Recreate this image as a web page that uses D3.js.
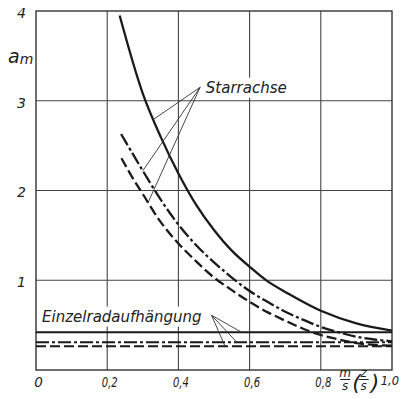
<!DOCTYPE html>
<html><head><meta charset="utf-8">
<script src="https://cdn.jsdelivr.net/npm/d3@7"></script>
<style>
html,body{margin:0;padding:0;background:#fff;}
svg{display:block;}
text{font-family:"DejaVu Sans",sans-serif;font-style:italic;fill:#222;}
</style></head>
<body>
<svg id="c" width="402" height="399"></svg>
<script>
// ---- data ----
const xTicks = [0, 0.2, 0.4, 0.6, 0.8, 1.0];
const xTickLabels = ["0", "0,2", "0,4", "0,6", "0,8", "1,0"];
const yTicks = [1, 2, 3, 4];
const yTickLabels = ["1", "2", "3", "4"];

// Starrachse curves (m/s, a_m)
const starSolidX = [0.235, 0.30, 0.35, 0.40, 0.45, 0.50, 0.55, 0.60, 0.65, 0.70, 0.80, 0.90, 1.0];
const starSolidY = [3.95, 3.08, 2.60, 2.19, 1.84, 1.56, 1.33, 1.15, 0.99, 0.87, 0.66, 0.52, 0.44];
const starDashDotX = [0.239, 0.27, 0.30, 0.35, 0.40, 0.45, 0.50, 0.55, 0.60, 0.65, 0.70, 0.75, 0.80, 0.85, 0.90, 0.95, 1.0];
const starDashDotY = [2.63, 2.42, 2.22, 1.90, 1.62, 1.39, 1.20, 1.03, 0.88, 0.76, 0.65, 0.56, 0.48, 0.42, 0.37, 0.34, 0.32];
const starDashX = [0.24, 0.27, 0.30, 0.35, 0.40, 0.45, 0.50, 0.55, 0.60, 0.65, 0.70, 0.75, 0.80, 0.85, 0.90, 0.95, 1.0];
const starDashY = [2.36, 2.15, 1.96, 1.65, 1.41, 1.21, 1.03, 0.89, 0.76, 0.645, 0.55, 0.46, 0.39, 0.34, 0.30, 0.28, 0.27];

// Einzelradaufhängung (constant levels)
const einzelLevels = [0.42, 0.31, 0.265];
const einzelStyles = ["solid", "dashdot", "dash"];

// annotations
const starLabel = "Starrachse";
const starLabelPos = [0.477, 3.09];
const starLeaderFrom = [0.461, 3.15];
const starLeaderTo = [0.33, 0.30, 0.315]; // x on solid, dash-dot, dashed
const einzelLabel = "Einzelradaufhängung";
const einzelLabelPos = [0.017, 0.54];
const einzelLeaderFrom = [0.493, 0.61];
const einzelLeaderTo = [0.578, 0.564, 0.531];

// ---- drawing ----
const svg = d3.select("#c");
const x = d3.scaleLinear().domain([0, 1]).range([36, 392]);
const y = d3.scaleLinear().domain([0, 4]).range([370, 11]);

const dashes = {solid: null, dashdot: "13,3,3,3", dash: "10,4"};

// grid
const g = svg.append("g");
g.selectAll("line.v").data(xTicks.filter(d => d > 0 && d < 1)).join("line")
  .attr("x1", d => x(d)).attr("x2", d => x(d)).attr("y1", y(4)).attr("y2", y(0))
  .attr("stroke", "#444").attr("stroke-width", 1.1);
g.selectAll("line.h").data(yTicks.filter(d => d < 4)).join("line")
  .attr("y1", d => y(d)).attr("y2", d => y(d)).attr("x1", x(0)).attr("x2", x(1))
  .attr("stroke", "#444").attr("stroke-width", 1.1);
svg.append("rect").attr("x", x(0)).attr("y", y(4)).attr("width", x(1) - x(0)).attr("height", y(0) - y(4))
  .attr("fill", "none").attr("stroke", "#333").attr("stroke-width", 1.4);

// labels with white background
function label(txt, pos, size) {
  const t = svg.append("text").attr("x", x(pos[0])).attr("y", y(pos[1]))
    .attr("font-size", size).text(txt);
  const b = t.node().getBBox();
  svg.insert("rect", "text").attr("x", b.x - 2).attr("y", b.y - 1).attr("width", b.width + 4).attr("height", b.height + 2)
    .attr("fill", "#fff");
  return t;
}
label(starLabel, starLabelPos, 15);
label(einzelLabel, einzelLabelPos, 15);

// curves
const line = d3.line().x(d => x(d[0])).y(d => y(d[1])).curve(d3.curveCatmullRom.alpha(0.5));
const series = [
  {xs: starSolidX, ys: starSolidY, style: "solid"},
  {xs: starDashDotX, ys: starDashDotY, style: "dashdot"},
  {xs: starDashX, ys: starDashY, style: "dash"}
];
series.forEach(s => {
  svg.append("path").datum(s.xs.map((v, i) => [v, s.ys[i]]))
    .attr("d", line).attr("fill", "none").attr("stroke", "#1a1a1a")
    .attr("stroke-width", 2.3).attr("stroke-dasharray", dashes[s.style]);
});
einzelLevels.forEach((lv, i) => {
  svg.append("path").datum([[0, lv], [1, lv]])
    .attr("d", d3.line().x(d => x(d[0])).y(d => y(d[1]))).attr("fill", "none").attr("stroke", "#1a1a1a")
    .attr("stroke-width", 1.9).attr("stroke-dasharray", dashes[einzelStyles[i]]);
});

// leader lines
function interp(xs, ys, v) {
  for (let i = 0; i < xs.length - 1; i++) {
    if (v >= xs[i] && v <= xs[i + 1]) {
      const t = (v - xs[i]) / (xs[i + 1] - xs[i]);
      return ys[i] + t * (ys[i + 1] - ys[i]);
    }
  }
  return ys[ys.length - 1];
}
starLeaderTo.forEach((v, i) => {
  const s = series[i];
  svg.append("line").attr("x1", x(starLeaderFrom[0])).attr("y1", y(starLeaderFrom[1]))
    .attr("x2", x(v)).attr("y2", y(interp(s.xs, s.ys, v)))
    .attr("stroke", "#333").attr("stroke-width", 0.9);
});
einzelLeaderTo.forEach((v, i) => {
  svg.append("line").attr("x1", x(einzelLeaderFrom[0])).attr("y1", y(einzelLeaderFrom[1]))
    .attr("x2", x(v)).attr("y2", y(einzelLevels[i]))
    .attr("stroke", "#333").attr("stroke-width", 0.9);
});

// axes
const xa = svg.append("g").attr("transform", `translate(0,${y(0)})`)
  .call(d3.axisBottom(x).tickValues(xTicks).tickSize(0).tickFormat((d, i) => xTickLabels[i]));
xa.select(".domain").remove();
xa.selectAll("text").attr("font-family", "Liberation Sans").attr("font-style", "italic")
  .attr("font-size", 13.5).attr("fill", "#222").attr("dy", "1.05em").attr("dx", 2)
  .filter(function() { return this.textContent.length > 1; })
  .attr("textLength", 16).attr("lengthAdjust", "spacingAndGlyphs");
xa.selectAll(".tick").filter(d => d === 1).select("text")
  .attr("text-anchor", "end").attr("dx", 0).attr("x", 398.5 - x(1))
  .attr("textLength", null).attr("lengthAdjust", null).attr("font-size", 11.5);

const ya = svg.append("g").attr("transform", `translate(${x(0)},0)`)
  .call(d3.axisLeft(y).tickValues(yTicks).tickSize(0).tickFormat((d, i) => yTickLabels[i]));
ya.select(".domain").remove();
ya.selectAll("text").attr("font-family", "Liberation Sans").attr("font-style", "italic")
  .attr("font-size", 14).attr("fill", "#222").attr("x", -10).attr("dy", "0.45em");

// y axis title a_m
const at = svg.append("text").attr("x", 8).attr("y", 63).attr("font-size", 19);
at.append("tspan").text("a");
at.append("tspan").attr("font-size", 14).attr("dy", 1).text("m");

// x axis title m/s (z/s)
const fx = x(0.87), fy = 379;
function frac(cx, top, bot) {
  svg.append("text").attr("x", cx).attr("y", fy - 2).attr("text-anchor", "middle").attr("font-size", 12)
    .attr("font-family", "Liberation Sans").text(top);
  svg.append("line").attr("x1", cx - 5).attr("x2", cx + 5).attr("y1", fy + 0.5).attr("y2", fy + 0.5)
    .attr("stroke", "#222").attr("stroke-width", 1);
  svg.append("text").attr("x", cx).attr("y", fy + 11).attr("text-anchor", "middle").attr("font-size", 12)
    .attr("font-family", "Liberation Sans").text(bot);
}
frac(fx - 0.5, "m", "s");
svg.append("text").attr("x", fx + 6.5).attr("y", fy + 11).attr("font-size", 22)
  .attr("font-family", "Liberation Sans").attr("font-style", "normal").text("(");
frac(fx + 18, "z", "s");
svg.append("text").attr("x", fx + 25).attr("y", fy + 11).attr("font-size", 22)
  .attr("font-family", "Liberation Sans").attr("font-style", "normal").text(")");
</script>
</body></html>
